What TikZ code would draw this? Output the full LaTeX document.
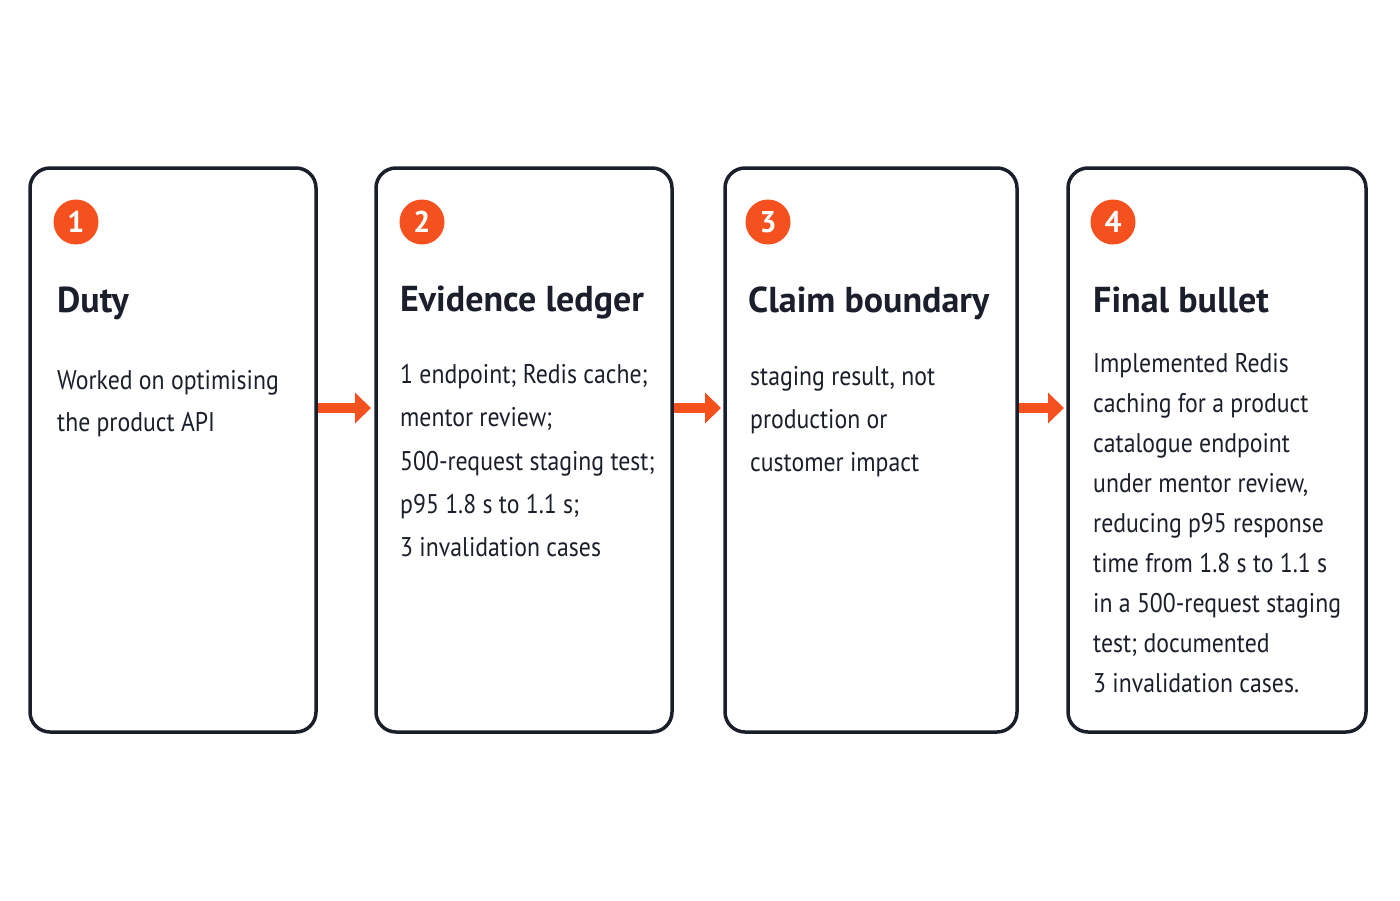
\documentclass[tikz,border=0pt]{standalone}
\usepackage{fontspec}
\setmainfont{PT Sans}
\newfontfamily\bodyf{PT Sans}[FakeStretch=0.88]
\usetikzlibrary{arrows.meta}
\definecolor{ink}{HTML}{1A1F2B}
\definecolor{acc}{HTML}{F4511E}
\begin{document}
\begin{tikzpicture}[x=1pt,y=-1pt,
 card/.style={draw=ink,line width=3.5pt,rounded corners=20pt,fill=white},
 num/.style={circle,fill=acc,minimum size=45pt,inner sep=0pt,text=white,font=\fontsize{30}{30}\selectfont\bfseries},
 ttl/.style={anchor=west,inner sep=0pt,text=ink,font=\fontsize{36}{40}\selectfont\bfseries},
 body/.style={anchor=north west,inner sep=0pt,align=left,text=ink},
 arr/.style={-{Triangle[length=16pt,width=30pt]},acc,line width=10pt}]
\useasboundingbox (0,0) rectangle (1400,900);
\fill[white] (0,0) rectangle (1400,900);
\draw[card] (30,168) rectangle (316,732);
\draw[card] (376,168) rectangle (672,732);
\draw[card] (725,168) rectangle (1017,732);
\draw[card] (1068,168) rectangle (1366,732);
\node[num] (n1) at (76,222) {1};
\node[num] (n2) at (422,222) {2};
\node[num] (n3) at (768,222) {3};
\node[num] (n4) at (1113,222) {4};
\node[ttl] (t1) at (57,303) {Duty};
\node[ttl] (t2) at (400,303) {Evidence ledger};
\node[ttl] (t3) at (748,303) {Claim boundary};
\node[ttl] (t4) at (1093,300) {Final bullet};
\node[body,font=\bodyf\fontsize{27}{42.5}\selectfont] (b1) at (57,370) {Worked on optimising\\the product API};
\node[body,font=\bodyf\fontsize{27}{43.3}\selectfont] (b2) at (400,364) {1 endpoint; Redis cache;\\mentor review;\\500-request staging test;\\p95 1.8 s to 1.1 s;\\3 invalidation cases};
\node[body,font=\bodyf\fontsize{27}{43}\selectfont] (b3) at (750,366) {staging result, not\\production or\\customer impact};
\node[body,font=\bodyf\fontsize{27}{40}\selectfont] (b4) at (1093,353) {Implemented Redis\\caching for a product\\catalogue endpoint\\under mentor review,\\reducing p95 response\\time from 1.8 s to 1.1 s\\in a 500-request staging\\test; documented\\3 invalidation cases.};
\coordinate (a1s) at (318,408); \coordinate (a1e) at (371,408);
\coordinate (a2s) at (674,408); \coordinate (a2e) at (721,408);
\coordinate (a3s) at (1019,408); \coordinate (a3e) at (1064,408);
\draw[arr] (a1s) -- (a1e);
\draw[arr] (a2s) -- (a2e);
\draw[arr] (a3s) -- (a3e);
\end{tikzpicture}
\end{document}
